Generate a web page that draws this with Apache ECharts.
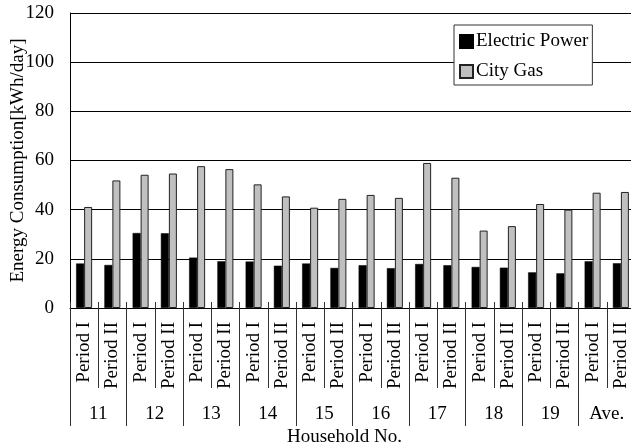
<!DOCTYPE html>
<html>
<head>
<meta charset="utf-8">
<script src="https://cdn.jsdelivr.net/npm/echarts@6/dist/echarts.min.js"></script>
<style>html,body{margin:0;padding:0;background:#fff}#c{width:631px;height:448px}</style>
</head>
<body>
<div id="c"></div>
<script>
var households = ['11','12','13','14','15','16','17','18','19','Ave.'];
var periods = ['Period I','Period II'];
var electricPower = [18.1,17.5,30.5,30.4,20.5,19.0,18.9,17.2,18.1,16.3,17.4,16.2,17.9,17.4,16.7,16.4,14.5,14.1,19.0,18.2];
var cityGas = [41.1,51.9,54.2,54.7,57.7,56.5,50.3,45.4,40.8,44.4,46.0,44.8,59.0,53.0,31.5,33.3,42.3,40.0,46.9,47.2];
var yTicks = {min:0, max:120, interval:20};

var categories = [];
households.forEach(function(h){ periods.forEach(function(p){ categories.push(p); }); });

var font = 'Liberation Serif';
var chart = echarts.init(document.getElementById('c'));
chart.setOption({
  animation:false,
  backgroundColor:'#fff',
  grid:{left:70, top:13, width:565, bottom:140, containLabel:false, outerBoundsMode:'none'},
  legend:{
    orient:'vertical', left:454, top:25,
    padding:[7,4,4,5], itemGap:11, itemWidth:13, itemHeight:13,
    backgroundColor:'#fff', borderColor:'#333', borderWidth:1,
    textStyle:{fontFamily:font, fontSize:19, color:'#000', padding:[0,0,0,-2]},
    data:[{name:'Electric Power', icon:'rect'},{name:'City Gas', icon:'rect'}]
  },
  xAxis:[
    {type:'category', data:categories, position:'bottom', boundaryGap:true,
     axisLine:{show:true, lineStyle:{color:'#000', width:1}},
     axisTick:{show:true, interval:0, length:80, lineStyle:{color:'#333'}},
     axisLabel:{interval:0, rotate:90, margin:14, fontFamily:font, fontSize:19, color:'#000'}},
    {type:'category', data:households, position:'bottom', boundaryGap:true,
     axisLine:{show:false},
     axisTick:{show:true, interval:0, length:118, lineStyle:{color:'#333'}},
     axisLabel:{interval:0, margin:97, fontFamily:font, fontSize:19, color:'#000'},
     name:'Household No.', nameLocation:'middle', nameGap:120, nameMoveOverlap:false,
     nameTextStyle:{fontFamily:font, fontSize:19, color:'#000', padding:[0,16,0,0]}},
    {type:'category', data:categories, position:'bottom', boundaryGap:true,
     axisLine:{show:false},
     axisTick:{show:true, inside:true, interval:0, length:6, lineStyle:{color:'#333'}},
     axisLabel:{show:false}}
  ],
  yAxis:{type:'value', min:yTicks.min, max:yTicks.max, interval:yTicks.interval,
    axisLine:{show:true, lineStyle:{color:'#000'}},
    axisTick:{show:false},
    splitLine:{show:true, lineStyle:{color:'#000', width:1}},
    axisLabel:{margin:16, fontFamily:font, fontSize:19, color:'#000'},
    name:'Energy Consumption[kWh/day]', nameLocation:'middle', nameGap:42, nameMoveOverlap:false,
    nameTextStyle:{fontFamily:font, fontSize:19, color:'#000'}},
  series:[
    {name:'Electric Power', type:'bar', xAxisIndex:0, data:electricPower, barWidth:8, barGap:'0%',
     itemStyle:{color:'#000', borderColor:'#000', borderWidth:0.5}},
    {name:'City Gas', type:'bar', xAxisIndex:0, data:cityGas, barWidth:8, barGap:'0%',
     itemStyle:{color:'#c0c0c0', borderColor:'#222', borderWidth:1}}
  ]
});
</script>
</body>
</html>
